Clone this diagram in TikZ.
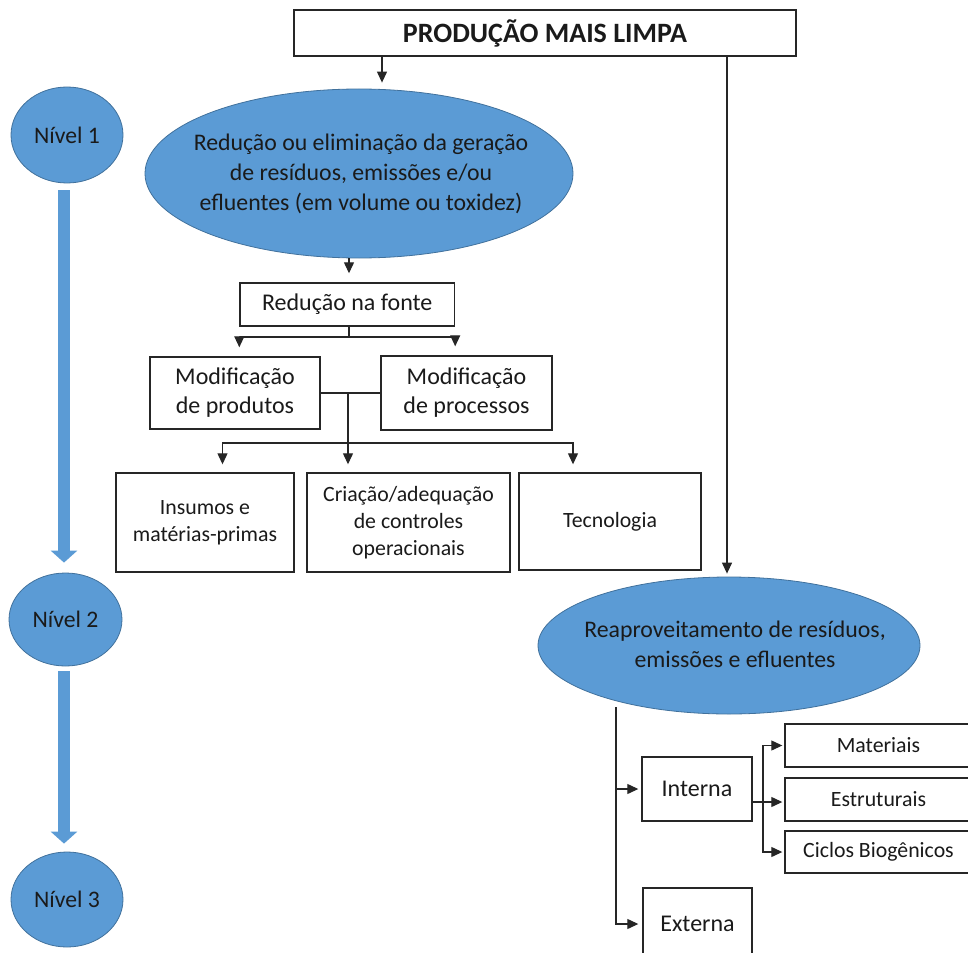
\documentclass[tikz,border=0pt]{standalone}
\usepackage{fontspec}
\setmainfont{Carlito}
\usetikzlibrary{shapes.geometric,arrows.meta,calc}
\definecolor{ovalblue}{HTML}{5B9BD5}
\definecolor{ovalline}{HTML}{41719C}
\definecolor{inktext}{HTML}{1A1A1A}
\definecolor{inkline}{HTML}{262626}
\begin{document}
\begin{tikzpicture}[x=1pt,y=-1pt,
  box/.style={draw=inkline, line width=1.4pt, fill=white, inner sep=0pt, align=center,
    text=inktext, font=\fontsize{24}{29}\selectfont},
  smallbox/.style={box, font=\fontsize{21.8}{27}\selectfont},
  oval/.style={ellipse, draw=ovalline, line width=0.8pt, fill=ovalblue, inner sep=0pt,
    align=center, text=inktext, font=\fontsize{23.7}{30}\selectfont},
  ovaltext/.style={inner sep=0pt, align=center, text=inktext, font=\fontsize{23.8}{30}\selectfont},
  link/.style={draw=inkline, line width=1.2pt},
  arr/.style={link, -{Triangle[width=10pt,length=11pt]}},
  levelarrow/.style={draw=ovalblue, line width=12pt, -{Triangle[width=26pt,length=12pt]}},
]
\useasboundingbox (0,0) rectangle (968,952);
\clip (0,0) rectangle (968,952);

% levels
\node[oval, minimum width=112pt, minimum height=96pt] (n1) at (67,135) {Nível 1};
\node[oval, minimum width=113pt, minimum height=93pt] (n2) at (65.5,619.5) {Nível 2};
\node[oval, minimum width=112pt, minimum height=95pt] (n3) at (67,899.5) {Nível 3};
\draw[levelarrow] ([xshift=-3pt,yshift=-7pt]n1.south) -- ([xshift=-1.5pt,yshift=10pt]n2.north);
\draw[levelarrow] ([xshift=-1.5pt,yshift=-5pt]n2.south) -- ([xshift=-3pt,yshift=8pt]n3.north);

% title
\node[box, minimum width=502pt, minimum height=46pt,
  font=\bfseries\fontsize{28}{34}\selectfont] (title) at (545,33) {PRODUÇÃO MAIS LIMPA};

% source reduction branch
\node[oval, minimum width=428pt, minimum height=169pt] (e1) at (359,173.5) {};
\node[ovaltext] (e1t) at (361,174) {Redução ou eliminação da geração\\de resíduos, emissões e/ou\\efluentes (em volume ou toxidez)};
\node[box, minimum width=214.5pt, minimum height=43pt] (r) at (347.25,304.5) {Redução na fonte};
\node[box, minimum width=170pt, minimum height=72pt] (mp) at (235,393) {Modificação\\de produtos};
\node[box, minimum width=171pt, minimum height=74pt] (mq) at (466.5,393) {Modificação\\de processos};
\node[smallbox, minimum width=178pt, minimum height=99pt] (ins) at (205,522.5) {Insumos e\\matérias-primas};
\node[smallbox, minimum width=203pt, minimum height=99pt] (cri) at (408.5,522.5) {Criação/adequação\\de controles\\operacionais};
\node[smallbox, minimum width=182pt, minimum height=97pt] (tec) at (610,521.5) {Tecnologia};

% reuse branch
\node[oval, minimum width=382pt, minimum height=137pt] (e2) at (729,645.5) {};
\node[ovaltext] (e2t) at (735,644) {Reaproveitamento de resíduos,\\emissões e efluentes};
\node[box, minimum width=110pt, minimum height=64pt] (int) at (697,789) {Interna};
\node[box, minimum width=109pt, minimum height=72pt] (ext) at (697.5,924) {Externa};
\node[smallbox, minimum width=187pt, minimum height=43pt] (mat) at (878.5,745.5) {Materiais};
\node[smallbox, minimum width=187pt, minimum height=43pt] (est) at (878.5,799.5) {Estruturais};
\node[smallbox, minimum width=187pt, minimum height=42pt] (cic) at (878.5,852) {Ciclos Biogênicos};

% junction points
\coordinate (xa) at (382,0);
\coordinate (xb) at (727,0);
\coordinate (xc) at (349,0);
\coordinate (j1) at (349,337);
\coordinate (j2) at (348,393);
\coordinate (j3) at (348,443);
\coordinate (xi) at (222.5,0);
\coordinate (xt) at (573,0);
\coordinate (xd) at (616,707);
\coordinate (j5) at (763,802);

% connectors
\draw[arr, shorten >=6pt] (title.south -| xa) -- (e1.north -| xa);
\draw[arr, shorten >=3pt] (title.south -| xb) -- (e2.north -| xb);
\draw[arr, shorten >=9pt] (e1.south -| xc) -- (r.north -| xc);
\draw[link] (r.south -| j1) -- (j1);
\draw[arr, shorten >=9pt] (j1) -| (mp.north -| r.west);
\draw[arr, shorten >=9pt] (j1) -| (mq.north -| r.east);
\draw[link] (mp.east) -- (mq.west);
\draw[link] (j2) -- (j3);
\draw[arr, shorten >=8pt] (j3) -| (ins.north -| xi);
\draw[arr, shorten >=8pt] (j3) -- (cri.north -| j3);
\draw[arr, shorten >=8pt] (j3) -| (tec.north -| xt);
\draw[arr, shorten >=4pt] (xd) |- (ext.west);
\draw[arr, shorten >=3pt] (int.west -| xd) -- (int.west);
\draw[arr, shorten >=2pt] (int.east |- j5) -- (est.west |- j5);
\draw[arr, shorten >=2pt] (j5) |- (mat.west);
\draw[arr, shorten >=2pt] (j5) |- (cic.west);
\end{tikzpicture}
\end{document}
